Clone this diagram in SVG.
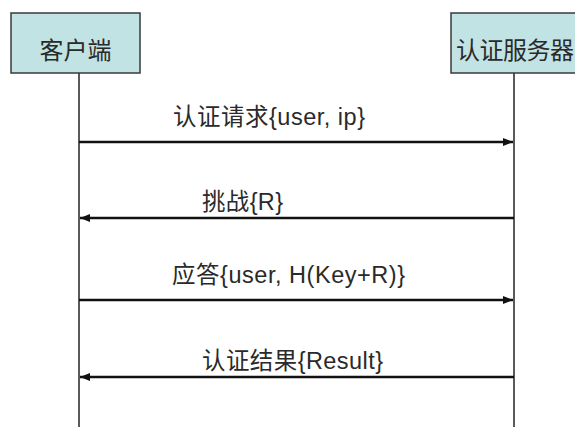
<svg xmlns="http://www.w3.org/2000/svg" width="575" height="427" viewBox="0 0 575 427">
  <style>
    .box { fill: #c2e3e3; stroke: #3a3a3a; stroke-width: 1.5; }
    .life { stroke: #5a5a5a; stroke-width: 2; fill: none; }
    .msg { stroke: #111; stroke-width: 2.5; fill: none; }
    .node-label { font-family: "Liberation Sans", "Noto Sans CJK SC", sans-serif; font-size: 24px; fill: #2a2a2a; }
    .msg-label { font-family: "Liberation Sans", "Noto Sans CJK SC", sans-serif; font-size: 23.5px; fill: #2a2a2a; }
  </style>
  <defs>
    <marker id="head" viewBox="0 0 10 8" refX="10" refY="4" markerWidth="10" markerHeight="8" markerUnits="userSpaceOnUse" orient="auto">
      <path d="M0,0 L10,4 L0,8 Z" fill="#111"/>
    </marker>
  </defs>

  <rect width="575" height="427" fill="#ffffff"/>

  <!-- lifelines -->
  <g id="lifelines">
    <line class="life" x1="79" y1="73" x2="79" y2="427"/>
    <line class="life" x1="514" y1="73" x2="514" y2="427"/>
  </g>

  <g id="client">
    <rect class="box" x="11" y="13" width="129" height="60"/>
    <text class="node-label" x="75.5" y="59" text-anchor="middle">客户端</text>
  </g>

  <g id="auth-server">
    <rect class="box" x="451" y="13" width="140" height="60"/>
    <text class="node-label" x="456" y="59" textLength="118">认证服务器</text>
  </g>

  <!-- messages -->
  <g id="connectors">
    <line class="msg" x1="79" y1="142" x2="513" y2="142" marker-end="url(#head)"/>
    <line class="msg" x1="514" y1="218" x2="80" y2="218" marker-end="url(#head)"/>
    <line class="msg" x1="79" y1="300" x2="513" y2="300" marker-end="url(#head)"/>
    <line class="msg" x1="514" y1="377" x2="80" y2="377" marker-end="url(#head)"/>
    <text class="msg-label" x="173" y="125" textLength="192">认证请求{user, ip}</text>
    <text class="msg-label" x="202" y="210" textLength="81">挑战{R}</text>
    <text class="msg-label" x="172" y="283" textLength="233">应答{user, H(Key+R)}</text>
    <text class="msg-label" x="202" y="369" textLength="181">认证结果{Result}</text>
  </g>
</svg>
